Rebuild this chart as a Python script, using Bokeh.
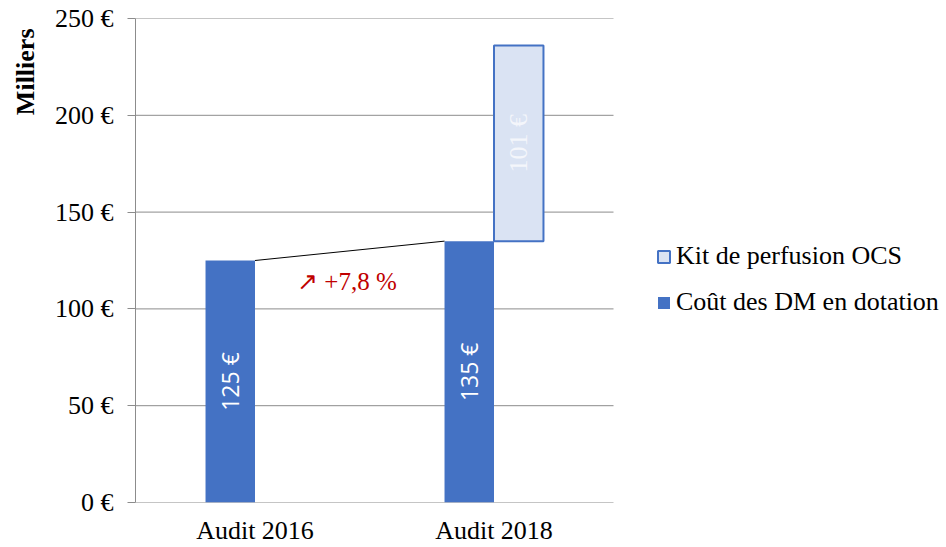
import math
from bokeh.plotting import figure
from bokeh.models import (ColumnDataSource, Range1d, FixedTicker, Legend, LegendItem, Label, Title)
from bokeh.core.properties import value
from bokeh.embed import file_html
from bokeh.resources import INLINE

# ---- data ----
categories = ["Audit 2016", "Audit 2018"]
dm_cost = [125, 135]            # Coût des DM en dotation (milliers €)
kit_cost = [101]                # Kit de perfusion OCS (Audit 2018 only)
dm_labels = ["125 €", "135 €"]
kit_labels = ["101 €"]
y_ticks = [0, 50, 100, 150, 200, 250]
y_tick_labels = ["0 €", "50 €", "100 €", "150 €", "200 €", "250 €"]
evolution_text = "\u2197 +7,8 %"

BLUE = "#4472C4"
LIGHT = "#DAE3F3"
GRID = "#8C8C8C"
SERIF = "Liberation Serif"

# ---- layout constants ----
W, H = 946, 547
LEFT, TOP, BOTTOM = 135, 18, 44
UNIT_PX = 239                       # pixels per category
x_start = -0.5
x_end = x_start + (W - LEFT) / UNIT_PX   # frame extends under the legend area
plot_x_end = 1.5                    # visible chart area ends here
w = 0.207
xs = list(range(len(categories)))

p = figure(width=W, height=H, output_backend="svg", toolbar_location=None,
           x_range=Range1d(x_start, x_end), y_range=Range1d(0, 250),
           min_border_left=LEFT, min_border_right=0, min_border_top=TOP,
           min_border_bottom=BOTTOM)
p.outline_line_color = None
p.background_fill_color = "white"
p.border_fill_color = "white"

# gridlines limited to the chart area
p.xgrid.visible = False
p.ygrid.visible = False
p.segment(x0=[x_start] * len(y_ticks), x1=[plot_x_end] * len(y_ticks),
          y0=y_ticks, y1=y_ticks, line_color=GRID, line_width=1)

# bars
dm_src = ColumnDataSource(dict(x=[x - w / 2 for x in xs], top=dm_cost,
                               ymid=[v / 2 for v in dm_cost], label=dm_labels))
r_dm = p.vbar(x="x", width=w, top="top", bottom=0, source=dm_src,
              fill_color=BLUE, line_color=None)

kit_src = ColumnDataSource(dict(x=[xs[1] + w / 2], bottom=[dm_cost[1]],
                                top=[dm_cost[1] + kit_cost[0]],
                                ymid=[dm_cost[1] + kit_cost[0] / 2], label=kit_labels))
r_kit = p.vbar(x="x", width=w, bottom="bottom", top="top", source=kit_src,
               fill_color=LIGHT, line_color=BLUE, line_width=2)

# connector line
p.line(x=[xs[0], xs[1] - w], y=[dm_cost[0], dm_cost[1]], line_color="black", line_width=1)

# value labels
p.text(x="x", y="ymid", text="label", source=dm_src, angle=math.pi / 2,
       text_align="center", text_baseline="middle", text_color="white",
       text_font=value("Open Sans"), text_font_size="23px")
p.text(x="x", y="ymid", text="label", source=kit_src, angle=math.pi / 2,
       text_align="center", text_baseline="middle", text_color="#F4F6FB",
       text_font=value(SERIF), text_font_size="26px")

# evolution annotation
p.add_layout(Label(x=0.176, y=114, text=evolution_text, text_color="#C00000",
                   text_font=SERIF, text_font_size="25px",
                   text_align="left", text_baseline="middle"))

# axes
p.yaxis.ticker = FixedTicker(ticks=y_ticks)
p.yaxis.major_label_overrides = {t: l for t, l in zip(y_ticks, y_tick_labels)}
p.yaxis.axis_line_color = GRID
p.yaxis.major_tick_line_color = GRID
p.yaxis.major_tick_out = 8
p.yaxis.major_tick_in = 0
p.yaxis.minor_tick_line_color = None
p.yaxis.major_label_text_font = SERIF
p.yaxis.major_label_text_font_size = "26px"
p.yaxis.major_label_text_color = "black"
p.yaxis.major_label_standoff = 14

p.xaxis.ticker = FixedTicker(ticks=xs)
p.xaxis.major_label_overrides = {x: c for x, c in zip(xs, categories)}
p.xaxis.axis_line_color = None
p.xaxis.major_tick_line_color = None
p.xaxis.minor_tick_line_color = None
p.xaxis.major_label_text_font = SERIF
p.xaxis.major_label_text_font_size = "26px"
p.xaxis.major_label_text_color = "black"
p.xaxis.major_label_standoff = 7

# y axis title near the top, like the original
p.add_layout(Title(text="Milliers", align="right", vertical_align="top", offset=10,
                   standoff=20, text_font=SERIF, text_font_size="26px",
                   text_font_style="bold", text_color="black"), "left")

legend = Legend(items=[LegendItem(label="Kit de perfusion OCS", renderers=[r_kit]),
                       LegendItem(label="Coût des DM en dotation", renderers=[r_dm])],
                location=(521, 185), padding=0, margin=0, spacing=16,
                glyph_width=15, glyph_height=15, label_height=26, label_standoff=5,
                label_text_font=SERIF, label_text_font_size="26px",
                label_text_color="black", border_line_color=None,
                background_fill_alpha=0)
p.add_layout(legend)

open("out.html", "w").write(file_html(p, INLINE))
